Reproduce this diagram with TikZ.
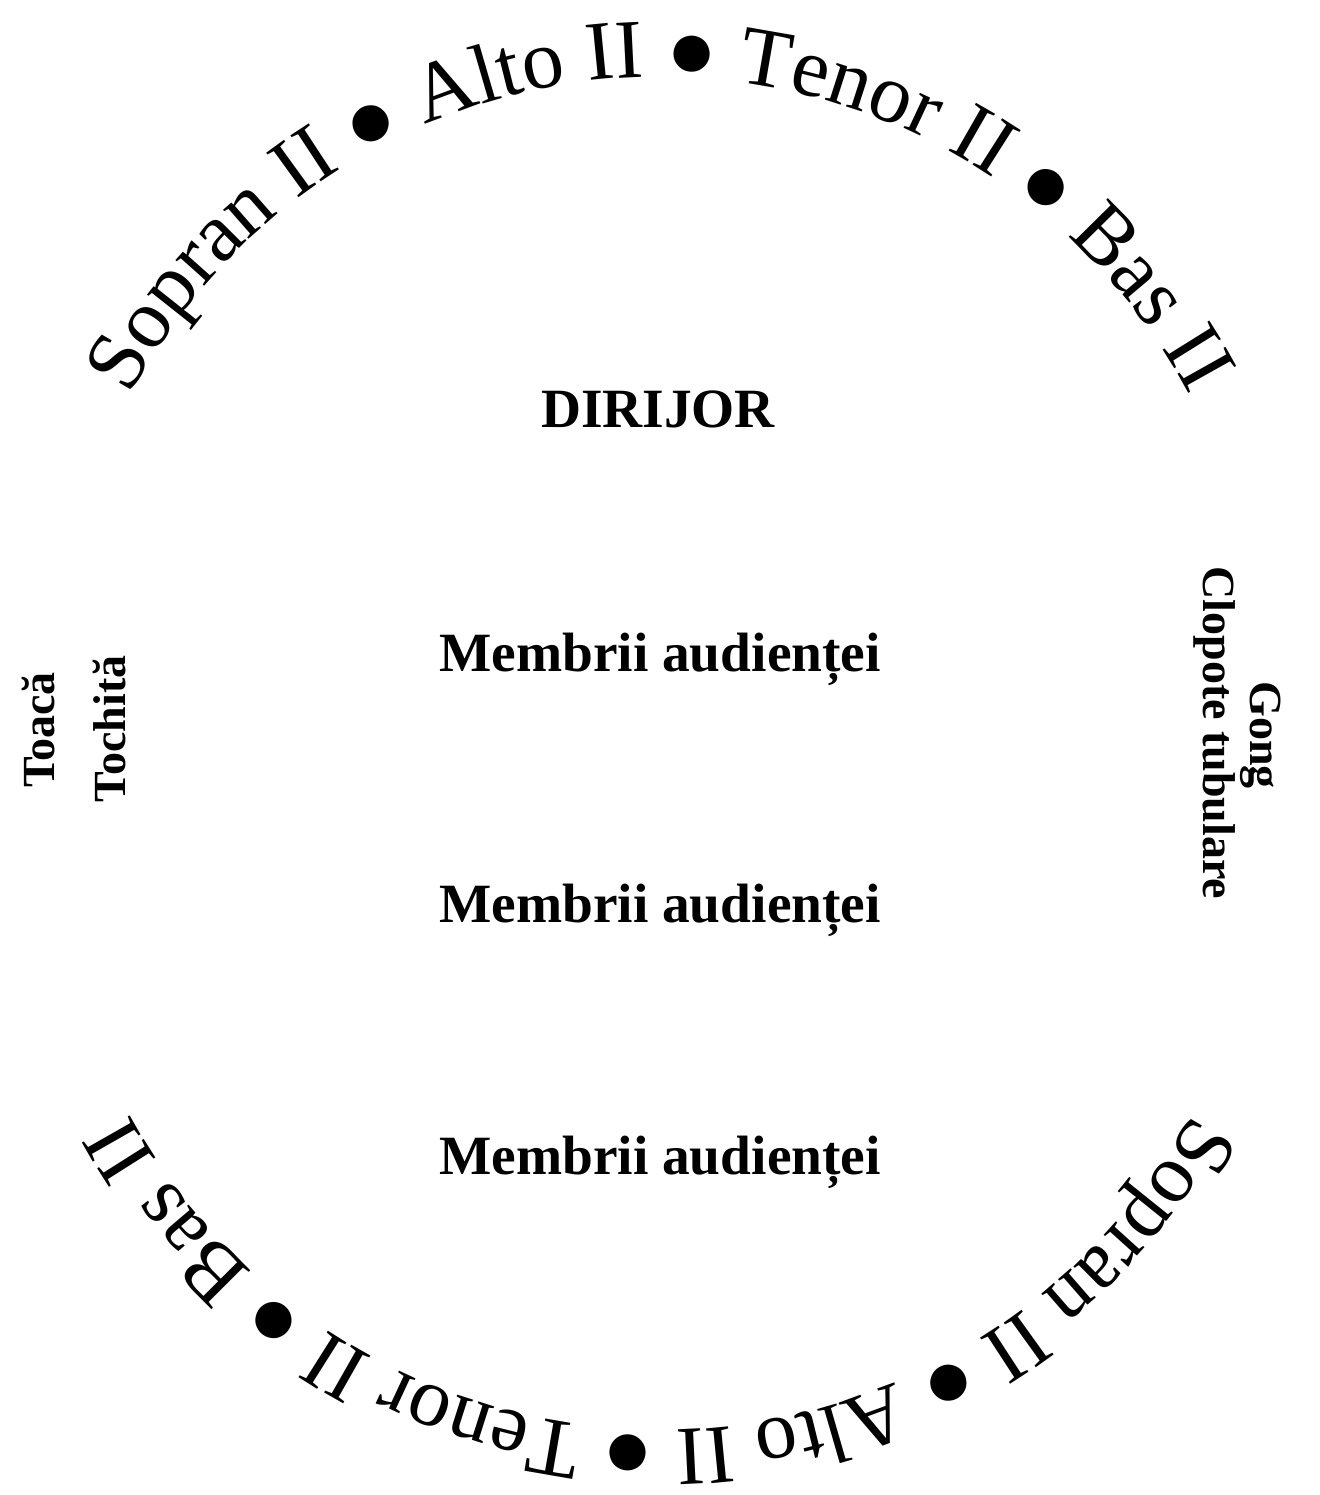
\documentclass[tikz,border=0pt]{standalone}
\usepackage{fontspec}
\setmainfont{Liberation Serif}
\usetikzlibrary{decorations.text}
\newcommand{\Arcfont}{\fontsize{42pt}{50pt}\selectfont}

\begin{document}
\begin{tikzpicture}[
    x=1pt, y=1pt,
    voices/.style={decorate, decoration={text along path, text align=center,
      text={|\Arcfont|Sopran II ● Alto II ● Tenor II ● Bas II}}},
    hall/.style={font=\bfseries\fontsize{27.7pt}{33pt}\selectfont, anchor=base, inner sep=0pt},
    instr/.style={font=\bfseries\fontsize{23pt}{28pt}\selectfont, anchor=base, inner sep=0pt},
  ]
  \useasboundingbox (0,0) rectangle (659.5,747.5);
  % centres of the two arcs
  \coordinate (Ctop) at (330,409);
  \coordinate (Cbot) at (330,334.5);
  % choir, upper arc and lower arc (upside down)
  \path[voices] (Ctop) ++(160:300pt) arc[start angle=160, end angle=20, radius=300pt];
  \path[voices] (Cbot) ++(-20:302pt) arc[start angle=-20, end angle=-160, radius=302pt];
  % conductor and audience
  \node[hall] (dir) at (329,533.5) {DIRIJOR};
  \node[hall] (aud1) at (330,411.5) {Membrii audienței};
  \node[hall] (aud2) at (330,286) {Membrii audienței};
  \node[hall] (aud3) at (330,160) {Membrii audienței};
  % percussion at the sides
  \node[instr, rotate=90] (toaca) at (27.5,382.5) {Toacă};
  \node[instr, rotate=90] (tochita) at (62.5,383) {Tochită};
  \node[instr, rotate=-90] (gong) at (625,380) {Gong};
  \node[instr, rotate=-90] (clopote) at (601.5,381) {Clopote tubulare};
\end{tikzpicture}
\end{document}
